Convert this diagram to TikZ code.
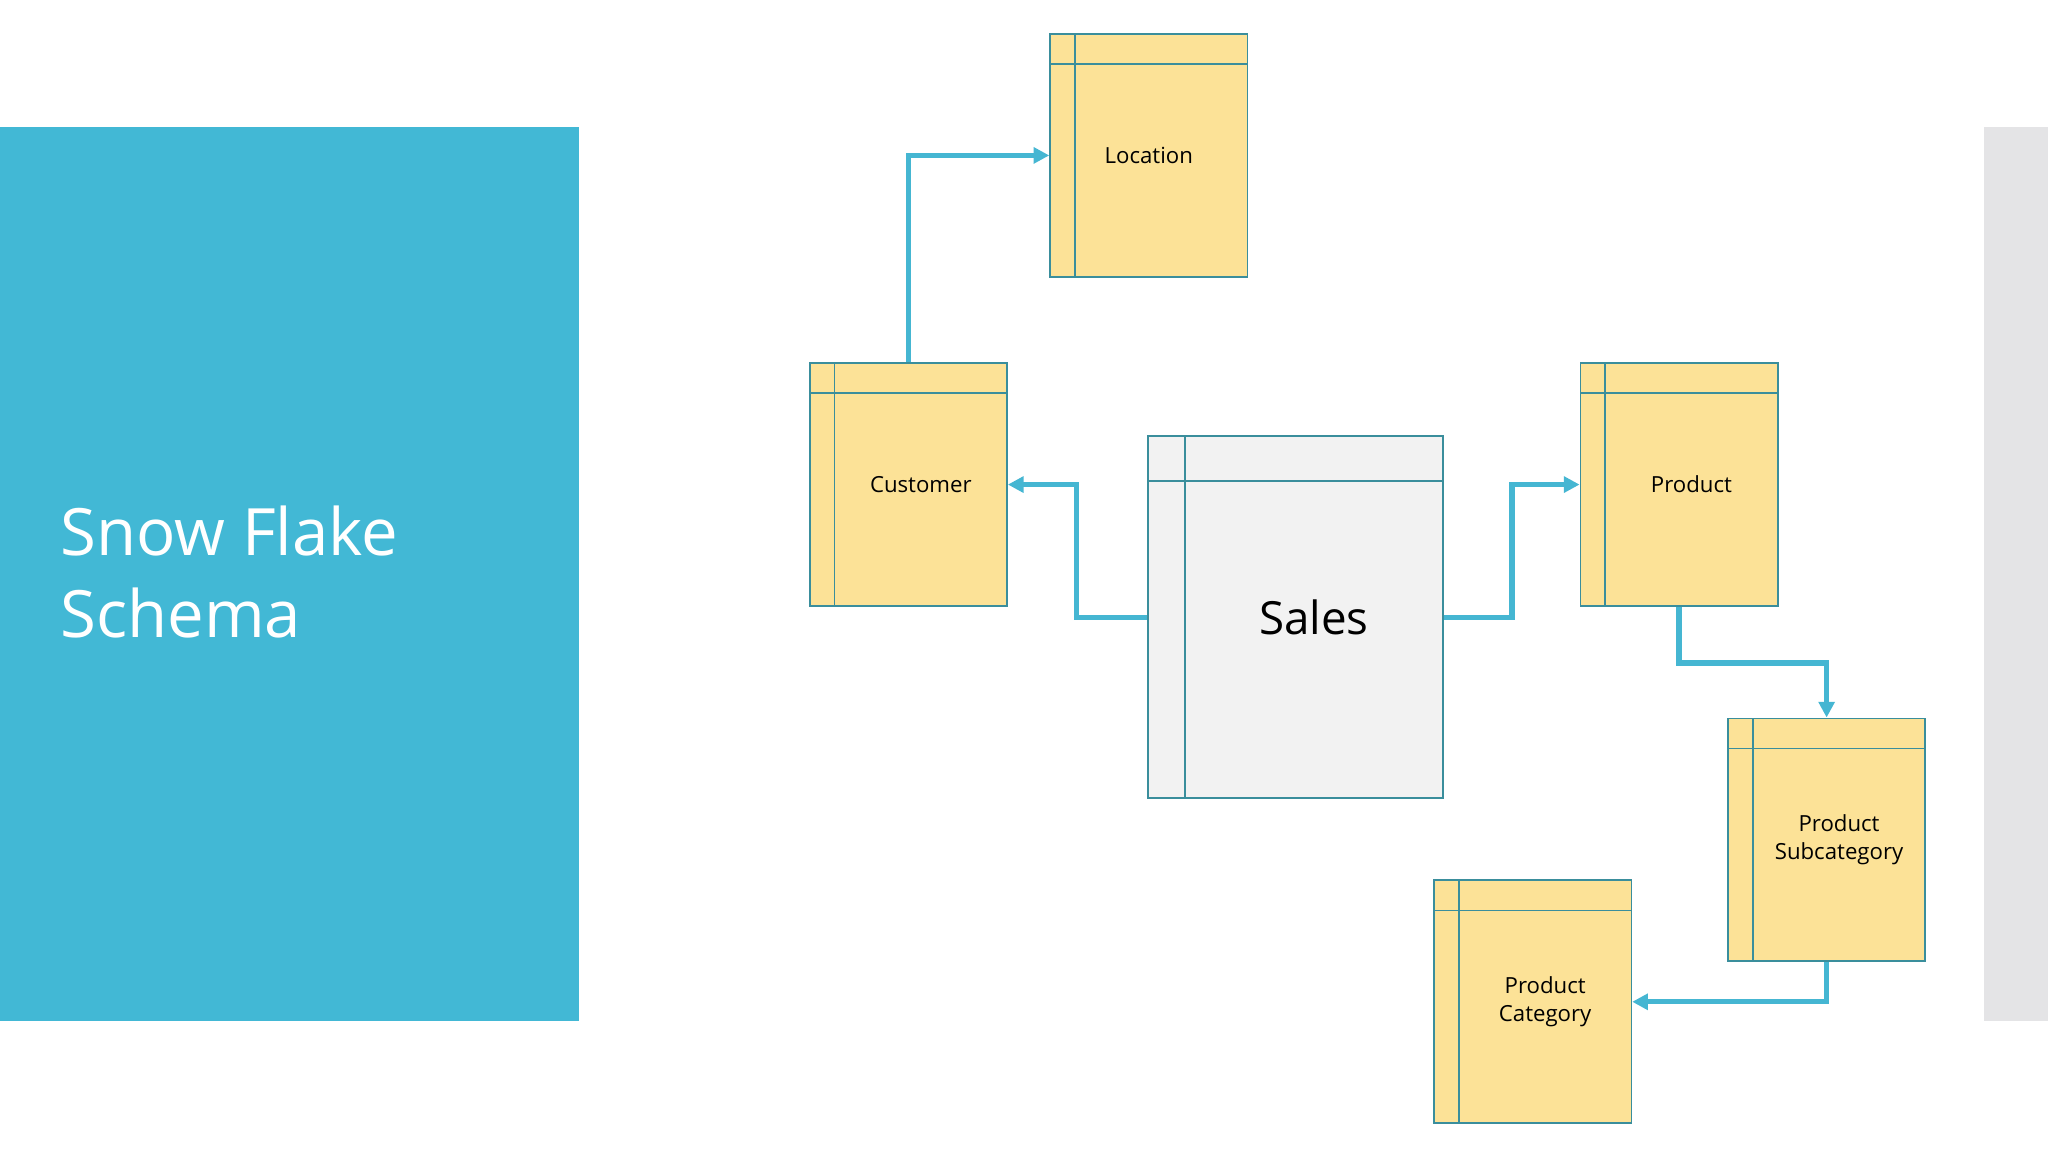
\documentclass[tikz,border=0pt]{standalone}
\usepackage{fontspec}
\setmainfont{Open Sans}
\usetikzlibrary{arrows.meta}
\definecolor{sfblue}{HTML}{42B8D5}
\definecolor{sfgray}{HTML}{E4E4E6}
\definecolor{tblborder}{HTML}{3A8E9C}
\definecolor{tblfill}{HTML}{FCE297}
\definecolor{salesfill}{HTML}{F2F2F2}
\definecolor{conn}{HTML}{45B6D2}
\tikzset{
  tbl/.style={draw=tblborder, line width=1.3pt, fill=tblfill, minimum width=151pt, minimum height=186pt, inner sep=0pt, font=\fontsize{17}{22}\selectfont, align=center,
    path picture={\draw[tblborder, line width=1.3pt]
      ([yshift=-23pt]path picture bounding box.north west) -- ([yshift=-23pt]path picture bounding box.north east)
      ([xshift=19pt]path picture bounding box.north west) -- ([xshift=19pt]path picture bounding box.south west);}},
  salestbl/.style={draw=tblborder, line width=1.3pt, fill=salesfill, minimum width=226pt, minimum height=277pt, inner sep=0pt, font=\fontsize{35}{40}\selectfont,
    path picture={\draw[tblborder, line width=1.3pt]
      ([yshift=-34pt]path picture bounding box.north west) -- ([yshift=-34pt]path picture bounding box.north east)
      ([xshift=28pt]path picture bounding box.north west) -- ([xshift=28pt]path picture bounding box.south west);}},
  link/.style={draw=conn, line width=4pt, -{Triangle[length=12pt,width=12pt]}}
}
\begin{document}
\begin{tikzpicture}[x=1pt,y=-1pt]
\useasboundingbox (0,0) rectangle (1568,882);
\fill[sfblue] (0,97) rectangle (443,782);
\fill[sfgray] (1519,97) rectangle (1568,782);
\node[anchor=west, text=white, font=\fontsize{50}{63}\selectfont, align=left, inner sep=0pt] (title) at (46,438) {Snow Flake\\Schema};
\node[tbl] (loc) at (879.5,119) {Location};
\node[tbl] (cust) at (695.5,371) {\hspace*{19pt}Customer};
\node[salestbl] (sales) at (992,472.5) {\hspace*{28pt}Sales};
\node[tbl] (prod) at (1285.5,371) {\hspace*{19pt}Product};
\node[tbl] (sub) at (1398.5,643) {\hspace*{19pt}Product\\\hspace*{19pt}Subcategory};
\node[tbl] (cat) at (1173.5,767) {\hspace*{19pt}Product\\\hspace*{19pt}Category};
\draw[link] (cust.north) |- (loc.west);
\draw[link] (sales.west) -- ++(-54,0) |- (cust.east);
\draw[link] (sales.east) -- ++(52,0) |- (prod.west);
\draw[link] (prod.south) -- ++(0,43) -| (sub.north);
\draw[link] (sub.south) |- (cat.east);
\end{tikzpicture}
\end{document}
